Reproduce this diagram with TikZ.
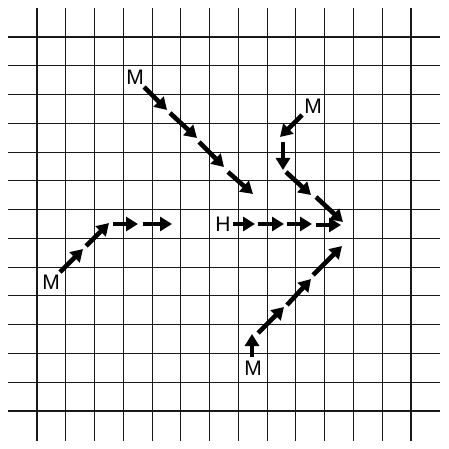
\documentclass[tikz,border=0pt]{standalone}
\usepackage{fontspec}
\setmainfont{Liberation Sans}
\usetikzlibrary{arrows.meta}
\begin{document}
\begin{tikzpicture}[x=1pt,y=-1pt,
  gridline/.style={line width=1.1pt,black!90},
  arr/.style={line width=4.6pt,-{Triangle[length=12pt,width=14pt]}},
  lbl/.style={font=\fontsize{21}{21}\selectfont,inner sep=0pt}]
\useasboundingbox (0,0) rectangle (448,449);
\foreach \k in {0,...,13}{
  \draw[gridline] ({37+28.77*\k},8) -- ({37+28.77*\k},441);
  \draw[gridline] (8,{37+28.77*\k}) -- (440,{37+28.77*\k});
}
% labels
\node[lbl] (m1) at (135,77) {M};
\node[lbl] (m2) at (313,106) {M};
\node[lbl] (m3) at (51,282) {M};
\node[lbl] (m4) at (253,368) {M};
\node[lbl] (h) at (223,224) {H};
% top M path
\coordinate (a1) at (144,87);  \coordinate (a2) at (167,110);
\coordinate (a3) at (170,113); \coordinate (a4) at (197,138);
\coordinate (a5) at (199,142); \coordinate (a6) at (224,167);
\coordinate (a7) at (228,172); \coordinate (a8) at (253,194);
\draw[arr] (a1) -- (a2);
\draw[arr] (a3) -- (a4);
\draw[arr] (a5) -- (a6);
\draw[arr] (a7) -- (a8);
% right M path
\coordinate (b1) at (302,115); \coordinate (b2) at (280,137);
\coordinate (b3) at (283,142); \coordinate (b4) at (283,170);
\coordinate (b5) at (286,172); \coordinate (b6) at (311,195);
\coordinate (b7) at (316,197); \coordinate (b8) at (343,222);
\draw[arr] (b1) -- (b2);
\draw[arr] (b3) -- (b4);
\draw[arr] (b5) -- (b6);
\draw[arr] (b7) -- (b8);
% left M path
\coordinate (c1) at (60,272);  \coordinate (c2) at (83,249);
\coordinate (c3) at (86,246);  \coordinate (c4) at (109,223);
\coordinate (c5) at (113,224); \coordinate (c6) at (138,224);
\coordinate (c7) at (143,224); \coordinate (c8) at (172,224);
\draw[arr] (c1) -- (c2);
\draw[arr] (c3) -- (c4);
\draw[arr] (c5) -- (c6);
\draw[arr] (c7) -- (c8);
% H path
\coordinate (d1) at (233,224); \coordinate (d2) at (255,224);
\coordinate (d3) at (258,224); \coordinate (d4) at (284,224);
\coordinate (d5) at (287,224); \coordinate (d6) at (312,224);
\coordinate (d7) at (316,225); \coordinate (d8) at (341,225);
\draw[arr] (d1) -- (d2);
\draw[arr] (d3) -- (d4);
\draw[arr] (d5) -- (d6);
\draw[arr] (d7) -- (d8);
% bottom M path
\coordinate (e1) at (252,357); \coordinate (e2) at (252,334);
\coordinate (e3) at (258,333); \coordinate (e4) at (284,307);
\coordinate (e5) at (287,305); \coordinate (e6) at (311,279);
\coordinate (e7) at (313,275); \coordinate (e8) at (342,246);
\draw[arr] (e1) -- (e2);
\draw[arr] (e3) -- (e4);
\draw[arr] (e5) -- (e6);
\draw[arr] (e7) -- (e8);
\end{tikzpicture}
\end{document}
